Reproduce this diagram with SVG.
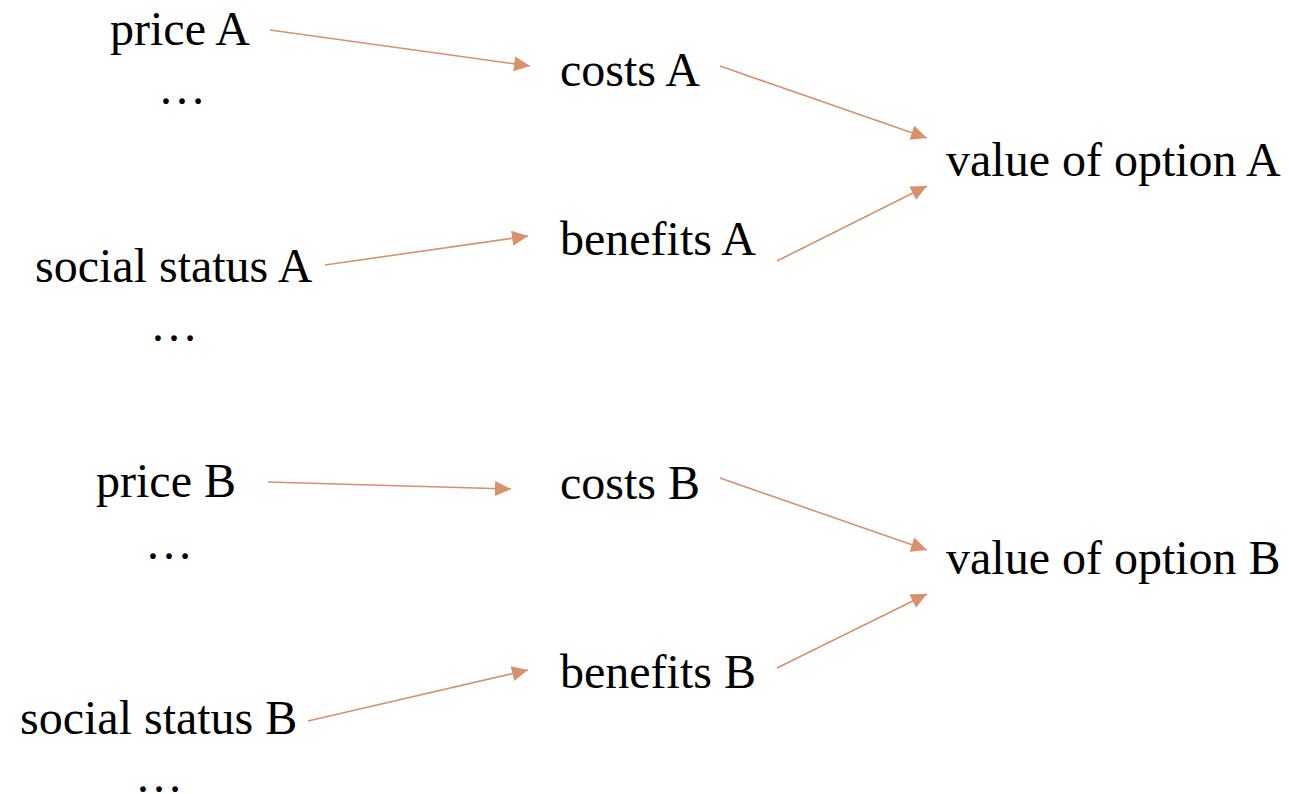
<svg xmlns="http://www.w3.org/2000/svg" width="1289" height="794" viewBox="0 0 1289 794">
<style>
text{font-family:"Liberation Serif","Times New Roman",serif;font-size:48px;fill:#000}
.c line{stroke:#D8916B;stroke-width:1.6;fill:none}
</style>
<defs>
<marker id="ah" markerUnits="userSpaceOnUse" markerWidth="18" markerHeight="16" refX="16" refY="7.5" orient="auto">
<path d="M0,0 L16,7.5 L0,15 Z" fill="#D8916B"/>
</marker>
</defs>
<rect width="1289" height="794" fill="#fff"/>
<g class="c" id="connectors">
<line x1="270" y1="30" x2="530" y2="66" marker-end="url(#ah)"/>
<line x1="720" y1="66" x2="927" y2="138" marker-end="url(#ah)"/>
<line x1="777" y1="261" x2="927" y2="186" marker-end="url(#ah)"/>
<line x1="325" y1="265" x2="528" y2="236" marker-end="url(#ah)"/>
<line x1="268" y1="482" x2="511" y2="489" marker-end="url(#ah)"/>
<line x1="720" y1="478" x2="927" y2="550" marker-end="url(#ah)"/>
<line x1="777" y1="668" x2="927" y2="594" marker-end="url(#ah)"/>
<line x1="308" y1="721" x2="528" y2="670" marker-end="url(#ah)"/>
</g>
<g id="priceA"><text x="110" y="45">price A</text></g>
<g id="dots1"><text x="158" y="104">…</text></g>
<g id="costsA"><text x="560" y="86">costs A</text></g>
<g id="valueA"><text x="946" y="176">value of option A</text></g>
<g id="benefitsA"><text x="560" y="255">benefits A</text></g>
<g id="socialA"><text x="35" y="282">social status A</text></g>
<g id="dots2"><text x="150" y="341">…</text></g>
<g id="priceB"><text x="96" y="497">price B</text></g>
<g id="dots3"><text x="145" y="559">…</text></g>
<g id="costsB"><text x="560" y="499">costs B</text></g>
<g id="valueB"><text x="946" y="574">value of option B</text></g>
<g id="benefitsB"><text x="560" y="688">benefits B</text></g>
<g id="socialB"><text x="20" y="734">social status B</text></g>
<g id="dots4"><text x="135" y="792">…</text></g>
</svg>
